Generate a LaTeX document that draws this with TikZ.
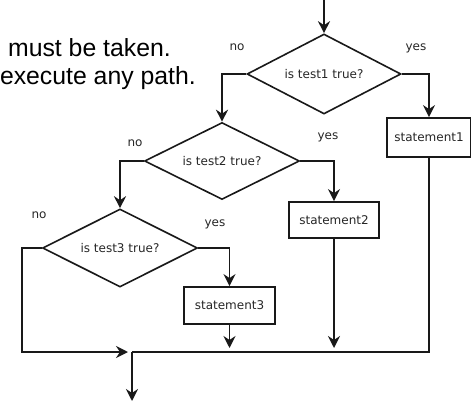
\documentclass[tikz,border=0pt]{standalone}
\usepackage{fontspec}
\newfontfamily\flowfont{DejaVu Sans}
\newfontfamily\slidefont{Liberation Sans}
\usetikzlibrary{shapes.geometric,arrows.meta}
\begin{document}
\begin{tikzpicture}[x=1pt,y=-1pt,
  line/.style={line width=1.9pt, draw=black!90},
  arr/.style={line, -{Stealth[length=12pt,width=12pt,inset=4pt]}},
  dec/.style={shape=diamond, draw=black!90, line width=1.6pt, aspect=2, inner sep=0pt,
    font=\flowfont\fontsize{12}{14}\selectfont, text=black!85},
  stmt/.style={rectangle, draw=black!90, line width=1.8pt, inner sep=0pt,
    font=\flowfont\fontsize{12}{14}\selectfont, text=black!85},
  lbl/.style={inner sep=0pt, anchor=base, font=\flowfont\fontsize{12}{14}\selectfont, text=black!85},
  slide/.style={inner sep=0pt, anchor=base east, font=\slidefont\fontsize{24.8}{29}\selectfont}
]
\useasboundingbox (0,0) rectangle (471,401);

% slide text
\node[slide] (t1) at (171,57) {must be taken.};
\node[slide] (t2) at (196,85) {execute any path.};

% decisions
\node[dec, minimum width=154pt, minimum height=80pt] (d1) at (324,74) {is test1 true?};
\node[dec, minimum width=155pt, minimum height=77pt] (d2) at (222,161) {is test2 true?};
\node[dec, minimum width=155pt, minimum height=78pt] (d3) at (120,248) {is test3 true?};

% statements
\node[stmt, minimum width=84pt, minimum height=39pt] (s1) at (429,137.5) {statement1};
\node[stmt, minimum width=90pt, minimum height=36pt] (s2) at (334,220) {statement2};
\node[stmt, minimum width=91pt, minimum height=37pt] (s3) at (229.5,305.5) {statement3};

% labels
\node[lbl] (n1) at (237,50.5) {no};
\node[lbl] (y1) at (416,50.5) {yes};
\node[lbl] (n2) at (135,146.5) {no};
\node[lbl] (y2) at (328,139.5) {yes};
\node[lbl] (n3) at (39,218.5) {no};
\node[lbl] (y3) at (215,226.5) {yes};

% coordinates
\coordinate (top) at (324,0);
\coordinate (j) at (132,352);
\coordinate (jl) at (128,352);
\coordinate (nl) at (22,352);
\coordinate (ybar) at (0,348);
\coordinate (bot) at (132,401);

% connectors
\draw[arr] (top) -- (d1.north);
\draw[arr] (d1.west) -| (d2.north);
\draw[arr] (d1.east) -| (s1.north);
\draw[arr] (d2.west) -| (d3.north);
\draw[arr] (d2.east) -| (s2.north);
\draw[arr] (d3.east) -| (s3.north);
\draw[arr] (d3.west) -| (nl) -- (jl);
\draw[arr] (s3.south) -- (s3.south |- ybar);
\draw[arr] (s2.south) -- (s2.south |- ybar);
\draw[line] (s1.south) |- (j);
\draw[arr] (j) -- (bot);
\end{tikzpicture}
\end{document}
